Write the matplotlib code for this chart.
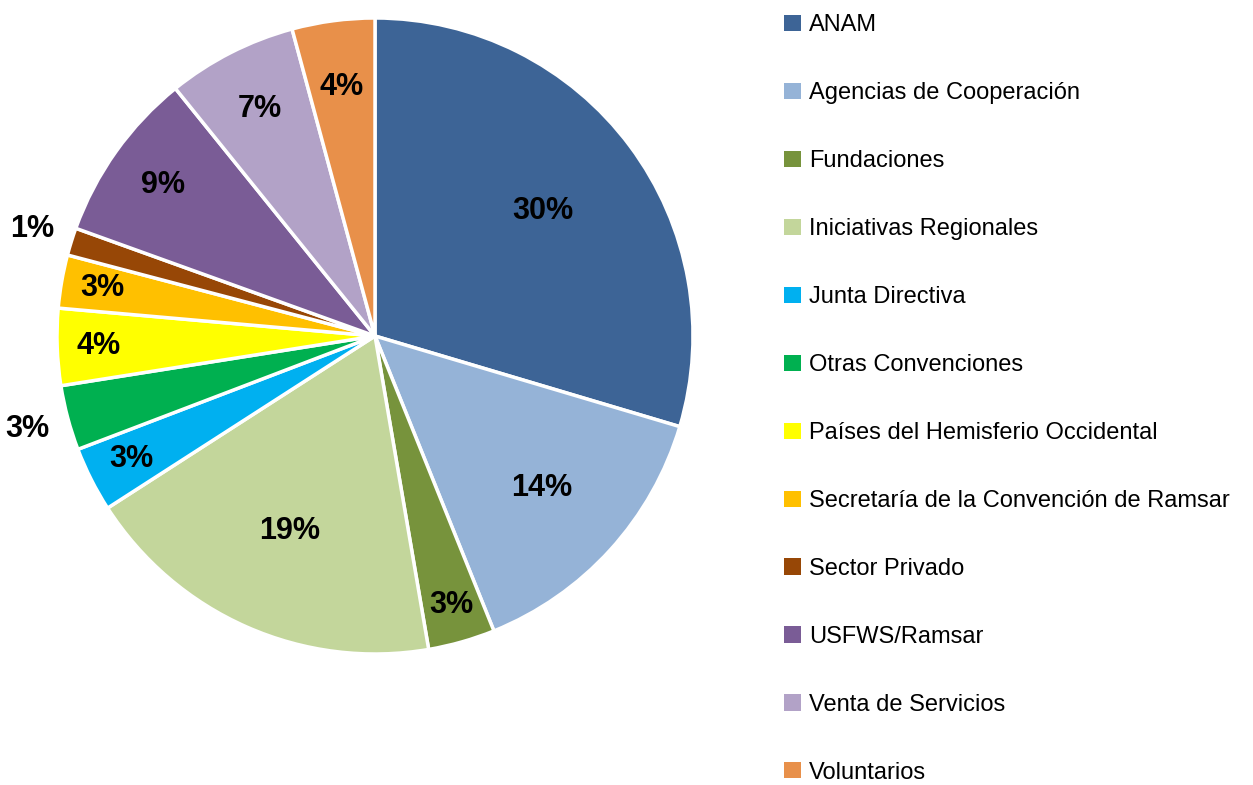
import numpy as np
import matplotlib.pyplot as plt
from matplotlib import font_manager

fuentes = ['ANAM', 'Agencias de Cooperación', 'Fundaciones', 'Iniciativas Regionales',
           'Junta Directiva', 'Otras Convenciones', 'Países del Hemisferio Occidental',
           'Secretaría de la Convención de Ramsar', 'Sector Privado', 'USFWS/Ramsar',
           'Venta de Servicios', 'Voluntarios']
porcentajes = [29.6, 14.3, 3.4, 18.6, 3.3, 3.3, 3.9, 2.7, 1.4, 8.7, 6.6, 4.2]
colores = ['#3d6496', '#95b3d7', '#77933c', '#c3d69b', '#00b0f0', '#00b050',
           '#ffff00', '#ffc000', '#974706', '#7a5c96', '#b2a2c7', '#e8904a']
# where each percent label sits, as a fraction of the radius
radio_etiqueta = [0.66, 0.71, 0.88, 0.67, 0.86, 1.13, 0.87, 0.87, 1.13, 0.82, 0.80, 0.79]

nombres = [f.name for f in font_manager.fontManager.ttflist]
fam = 'Liberation Sans Narrow' if 'Liberation Sans Narrow' in nombres else 'Liberation Sans'
plt.rcParams['font.family'] = [fam, 'DejaVu Sans']

fig = plt.figure(figsize=(12.53, 7.85), dpi=100)
ax = fig.add_axes([57 / 1253, 131 / 785, 636 / 1253, 636 / 785])
wedges, _ = ax.pie(porcentajes, colors=colores, startangle=90, counterclock=False,
                   wedgeprops=dict(edgecolor='white', linewidth=2.5))
ax.set_xlim(-1, 1)
ax.set_ylim(-1, 1)
ax.set_aspect('equal')

total = sum(porcentajes)
for w, v, r in zip(wedges, porcentajes, radio_etiqueta):
    ang = np.deg2rad((w.theta1 + w.theta2) / 2)
    ax.text(r * np.cos(ang), r * np.sin(ang), '%.0f%%' % (100 * v / total),
            ha='center', va='center', fontsize=22, fontweight='bold', clip_on=False)

leg = fig.legend(wedges, fuentes, loc='upper left', bbox_to_anchor=(775 / 1253, 1.0 - 5 / 785),
                 frameon=False, fontsize=17, handlelength=0.68, handleheight=0.68,
                 handletextpad=0.35, labelspacing=1.945, borderaxespad=0)
for h in leg.legend_handles:
    h.set_edgecolor('none')

fig.savefig('out.png', dpi=100)
